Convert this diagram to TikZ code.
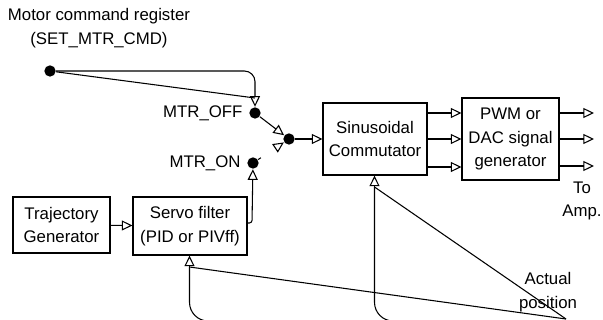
\documentclass[tikz,border=0pt]{standalone}
\usepackage{fontspec}
\setmainfont{Liberation Sans}
\usetikzlibrary{arrows.meta,calc}
\tikzset{
	blk/.style={draw,line width=.8pt,align=center,inner sep=0pt},
	dot/.style={circle,fill=black,inner sep=0pt,minimum size=8.5pt},
	arr/.style={-{Triangle[open,length=8pt,width=7.5pt]}},
}
\begin{document}
\begin{tikzpicture}[x=.75pt,y=-.75pt,line width=.8pt,
		font=\fontsize{12.6}{17.8}\selectfont]
	\useasboundingbox (0,0) rectangle (603,320);
	\clip (0,0) rectangle (603,320);
	% blocks
	\node[blk,minimum width=72.75pt,minimum height=42pt] (traj) at (61.5,225)
		{Trajectory\\Generator};
	\node[blk,minimum width=85.5pt,minimum height=43.5pt] (servo) at (190,226)
		{Servo filter\\(PID or PIVff)};
	\node[blk,minimum width=78pt,minimum height=54pt] (comm) at (375,139)
		{Sinusoidal\\Commutator};
	\node[blk,minimum width=72.75pt,minimum height=61.5pt] (pwm) at (510.5,139)
		{PWM or\\DAC signal\\generator};
	% switch
	\node[dot] (src) at (50,71) {};
	\node[dot] (off) at (255,113) {};
	\node[dot] (on) at (253,163) {};
	\node[dot] (sw) at (289,139) {};
	\node[anchor=east] at ([xshift=-1pt]off.west) {MTR\_OFF};
	\node[anchor=east] at ([xshift=-1pt]on.west) {MTR\_ON};
	\node[align=center] (cmd) at (99,28)
		{Motor command register\\(SET\_MTR\_CMD)};
	\coordinate (offin) at (255,98);
	\draw[arr,rounded corners=8] (src) -- (255,71) -- (off);
	\draw (src) -- (offin);
	\draw[arr] (off) -- (sw);
	\draw (on) -- ($(on)!.22!(sw)$);
	\draw[arr] ($(on)!.62!(sw)$) -- (sw);
	\draw[arr,rounded corners=2] (servo.east |- 0,223) -- (252,223) -- (on);
	\draw[arr] (traj) -- (servo);
	\draw[arr] (sw) -- (comm);
	\foreach \y in {113,139,167}
		\draw[arr] (comm.east |- 0,\y) -- (pwm.west |- 0,\y);
	\foreach \y [count=\i] in {113,139,166}{
		\coordinate (out\i) at (594,\y);
		\draw[arr] (pwm.east |- out\i) -- (out\i);
	}
	\node[align=center] (amp) at (582,201) {To\\Amp.};
	% feedback
	\coordinate (act) at (566,319);
	\coordinate (sfb) at (189.5,267);
	\coordinate (cfb) at (374.5,187);
	\node[align=center] (pos) at (548,292) {Actual\\position};
	\draw[arr] (sfb) -- (servo.south -| sfb);
	\draw[arr] (cfb) -- (comm.south -| cfb);
	\draw (act) -- (sfb);
	\draw (act) -- (cfb);
	\draw[rounded corners=14] (sfb) -- (189.5,321) -- (260,321);
	\draw[rounded corners=14] (cfb) -- (374.5,321) -- (440,321);
\end{tikzpicture}
\end{document}
